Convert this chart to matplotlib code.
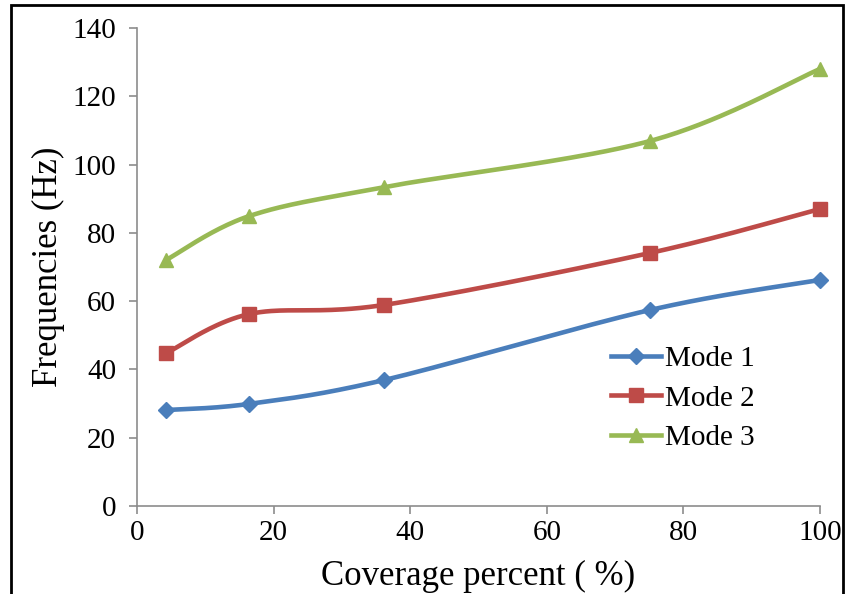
import numpy as np
import matplotlib
matplotlib.use("Agg")
import matplotlib.pyplot as plt
from matplotlib.lines import Line2D
from matplotlib.patches import Rectangle

coverage = [4.3, 16.4, 36.2, 75.1, 100.0]
mode1 = [28.1, 29.9, 36.9, 57.4, 66.2]
mode2 = [44.8, 56.2, 58.9, 74.1, 87.0]
mode3 = [72.1, 84.9, 93.4, 106.9, 128.0]
series_names = ["Mode 1", "Mode 2", "Mode 3"]
x_ticks = [0, 20, 40, 60, 80, 100]
y_ticks = [0, 20, 40, 60, 80, 100, 120, 140]

colors = ["#4a7ebb", "#be4b48", "#98b954"]
markers = ["D", "s", "^"]
msizes = [8, 10, 10]


def smooth(xs, ys, n=40):
    """Catmull-Rom style Bezier smoothing through every point."""
    p = np.column_stack([xs, ys]).astype(float)
    pts = np.vstack([p[0], p, p[-1]])
    out = []
    t = np.linspace(0, 1, n)[:, None]
    for i in range(1, len(pts) - 2):
        p0, p1, p2, p3 = pts[i - 1], pts[i], pts[i + 1], pts[i + 2]
        c1 = p1 + (p2 - p0) / 6.0
        c2 = p2 - (p3 - p1) / 6.0
        seg = ((1 - t) ** 3) * p1 + 3 * ((1 - t) ** 2) * t * c1 \
            + 3 * (1 - t) * t ** 2 * c2 + t ** 3 * p2
        out.append(seg if i == 1 else seg[1:])
    s = np.vstack(out)
    return s[:, 0], s[:, 1]


plt.rcParams["font.family"] = ["Liberation Serif", "DejaVu Serif"]

fig = plt.figure(figsize=(8.47, 5.94), dpi=100)
ax = fig.add_axes([137 / 847, 1 - 506 / 594, (820 - 137) / 847, (506 - 28) / 594])

handles = []
for ys, c, m, ms, name in zip([mode1, mode2, mode3], colors, markers, msizes, series_names):
    sx, sy = smooth(coverage, ys)
    ax.plot(sx, sy, color=c, lw=3.3, solid_capstyle="round", zorder=2)
    ax.plot(coverage, ys, linestyle="none", marker=m, ms=ms, color=c,
            markeredgecolor=c, zorder=3, clip_on=False)
    handles.append(Line2D([0], [0], color=c, lw=3.3, marker=m, ms=ms,
                          markeredgecolor=c, label=name))

ax.set_xlim(0, 100)
ax.set_ylim(0, 140)
ax.set_xticks(x_ticks)
ax.set_yticks(y_ticks)
for side in ["top", "right"]:
    ax.spines[side].set_visible(False)
for side in ["left", "bottom"]:
    ax.spines[side].set_color("#8c8c8c")
    ax.spines[side].set_linewidth(1.2)
ax.tick_params(axis="both", direction="out", length=6, width=1.2, color="#8c8c8c",
               labelsize=21)
ax.tick_params(axis="y", pad=9)
ax.tick_params(axis="x", pad=4)
ax.set_xlabel("Coverage percent ( %)", fontsize=25, labelpad=10)
ax.set_ylabel("Frequencies (Hz)", fontsize=25, labelpad=5)

ax.legend(handles=handles, loc="upper left", bbox_to_anchor=(0.677, 0.36),
          frameon=False, fontsize=21, handlelength=1.7, handletextpad=0.15,
          labelspacing=0.45, borderaxespad=0)

fig.patches.append(Rectangle((11 / 847, -0.05), (843 - 11) / 847, 1.05 - 5 / 594,
                             transform=fig.transFigure, fill=False,
                             edgecolor="black", linewidth=2))

fig.savefig("out.png", dpi=100)
